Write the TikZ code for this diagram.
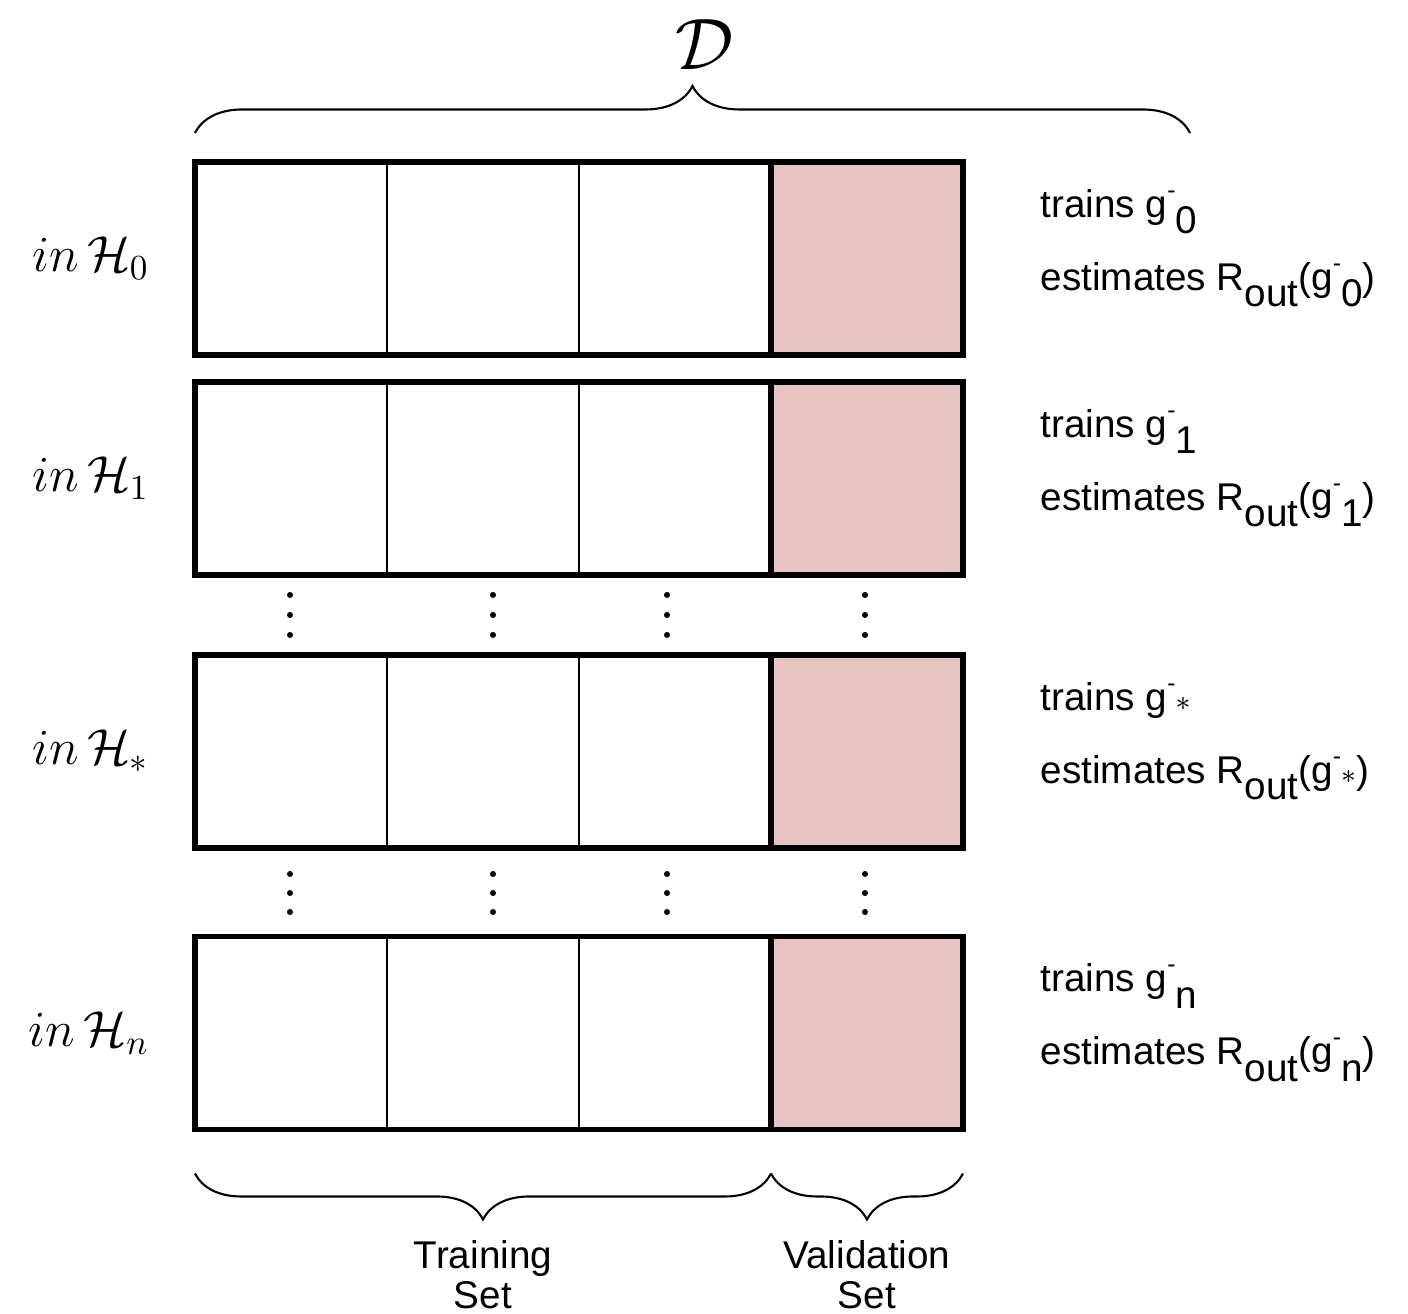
\documentclass[tikz,border=0pt]{standalone}
\usepackage{fontspec}
\newfontfamily\helvetica{Liberation Sans}
\usetikzlibrary{positioning, calc, decorations.pathreplacing}
\definecolor{rosavalida}{HTML}{E6C4C2}
\newcommand{\gmenos}[1]{g\raisebox{0.95ex}{\scriptsize -}\raisebox{-0.8ex}{#1}}
\tikzset{
  celda/.style={
    draw=black, line width=0.6pt,
    minimum width=1.92cm, minimum height=1.93cm,
    inner sep=0pt, outer sep=0pt
  },
  celdaValida/.style={celda, fill=rosavalida},
  bordeFila/.style={draw=black, line width=1.5pt},
  llave/.style={decorate, decoration={brace, amplitude=0.47cm}, line width=0.6pt},
  llaveInv/.style={decorate, decoration={brace, mirror, amplitude=0.46cm}, line width=0.6pt},
  etiquetaIzq/.style={font=\Large, inner sep=0pt},
  etiquetaDer/.style={font=\helvetica\fontsize{11}{13}\selectfont, anchor=base west, inner sep=0pt},
  etiquetaAbajo/.style={font=\helvetica\fontsize{11}{11.5}\selectfont, align=center, inner sep=0pt},
}

\begin{document}
\begin{tikzpicture}
    \useasboundingbox (0,0) rectangle (14.08,13.14);

    % Filas: tres bloques de entrenamiento y uno de validacion
    \foreach \fila/\yc/\subM/\subT in {0/10.555/0/0, 1/8.355/1/1, 2/5.625/*/{\raisebox{0.8ex}{$\scriptstyle\ast$}}, 3/2.81/n/n}{
      \node[celda] (c\fila a) at (2.91,\yc) {};
      \node[celda, right=0pt of c\fila a] (c\fila b) {};
      \node[celda, right=0pt of c\fila b] (c\fila c) {};
      \node[celdaValida, right=0pt of c\fila c] (c\fila d) {};
      \draw[bordeFila] (c\fila a.north west) rectangle (c\fila d.south east);
      \draw[bordeFila] (c\fila d.north west) rectangle (c\fila d.south east);

      \node[etiquetaIzq, left=0.45cm of c\fila a] (h\fila) {$in\,\mathcal{H}_{\subM}$};
      \node[etiquetaDer] (tr\fila) at ($(c\fila d.east)+(0.77,0.41)$) {trains \gmenos{\subT}};
      \node[etiquetaDer] (es\fila) at ($(c\fila d.east)+(0.77,-0.32)$) {estimates R\raisebox{-0.8ex}{out}(\gmenos{\subT})};
    }

    % Puntos suspensivos entre filas
    \foreach \xp in {2.90, 4.93, 6.67, 8.65}
      \foreach \yp in {7.19, 6.99, 6.79, 4.40, 4.21, 4.02}
        \fill (\xp,\yp) circle (0.03);

    % Llave superior (D)
    \coordinate[above=0.29cm of c0a.north west] (iniD);
    \coordinate[right=9.95cm of iniD] (finD);
    \draw[llave] (iniD) -- (finD)
      node[midway, above=0.62cm, xshift=0.12cm, inner sep=0pt, font=\huge] (etD) {$\mathcal{D}$};

    % Llaves inferiores
    \coordinate[below=0.44cm of c3a.south west] (iniE);
    \coordinate[below=0.44cm of c3d.south west] (finE);
    \coordinate[below=0.44cm of c3d.south east] (finV);
    \draw[llaveInv] (iniE) -- (finE)
      node[midway, below=0.66cm, etiquetaAbajo] (etE) {Training\\Set};
    \draw[llaveInv] (finE) -- (finV)
      node[midway, below=0.66cm, etiquetaAbajo] (etV) {Validation\\Set};
  \end{tikzpicture}
\end{document}
